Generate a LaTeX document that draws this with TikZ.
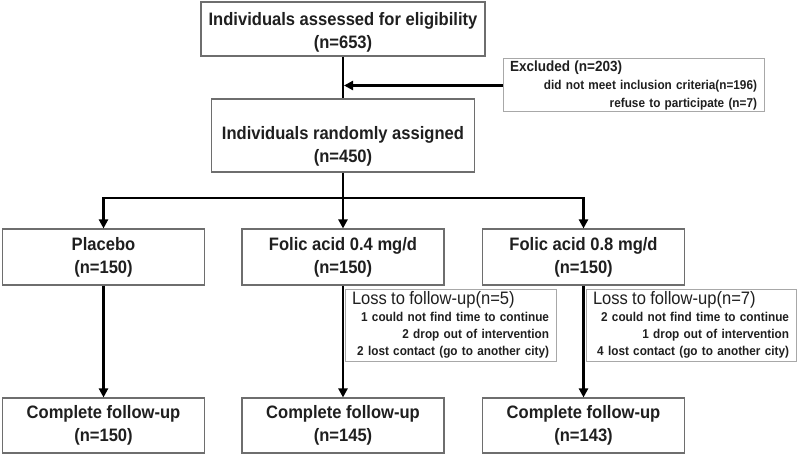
\documentclass[tikz,border=0pt]{standalone}
\usepackage{fontspec}
\setmainfont{Liberation Sans}[FakeStretch=0.92]
\usetikzlibrary{arrows.meta}
\definecolor{boxgray}{HTML}{6E6E6E}
\definecolor{sidegray}{HTML}{A8A8A8}

\begin{document}
\begin{tikzpicture}
[x=1pt, y=-1pt, line width=2.2pt, text=black!88,
main/.style={rectangle, draw=boxgray, line width=1.1pt, align=center, inner sep=0pt, font=\fontsize{18}{23}\selectfont\bfseries},
arm/.style={main, minimum width=202pt, minimum height=56pt},
side/.style={rectangle, draw=sidegray, line width=1pt, inner xsep=7pt, inner ysep=0pt, align=right},
flow/.style={-{Triangle[length=9pt, width=9pt]}}
]

\useasboundingbox (0,0) rectangle (800,457);

\node[main, minimum width=284pt, minimum height=54pt] (assess) at (343,29) {\rule{0pt}{19pt}Individuals assessed for eligibility\\(n=653)};
\node[main, minimum width=263pt, minimum height=73pt] (rand) at (343,135.5) {\rule{0pt}{34pt}Individuals randomly assigned\\(n=450)};

\node[side, text width=247pt, minimum height=53pt, font=\fontsize{12.8}{18}\selectfont\bfseries] (excl) at (633.5,85.5)
  {\makebox[\hsize][l]{\fontsize{14.7}{18}\selectfont Excluded (n=203)}\\did not meet inclusion criteria(n=196)\\refuse to participate (n=7)};

\node[arm] (arm0) at (103.5,257) {Placebo\\(n=150)};
\node[arm] (arm1) at (343,257) {Folic acid 0.4 mg/d\\(n=150)};
\node[arm] (arm2) at (583.5,257) {Folic acid 0.8 mg/d\\(n=150)};

\node[side, text width=197pt, minimum height=72pt, font=\fontsize{12.8}{17}\selectfont\bfseries] (loss1) at (450.5,325)
  {\makebox[\hsize][l]{\fontsize{18}{17}\selectfont\mdseries Loss to follow-up(n=5)}\\1 could not find time to continue\\2 drop out of intervention\\2 lost contact (go to another city)};
\node[side, text width=196pt, minimum height=72pt, font=\fontsize{12.8}{17}\selectfont\bfseries] (loss2) at (691,325)
  {\makebox[\hsize][l]{\fontsize{18}{17}\selectfont\mdseries Loss to follow-up(n=7)}\\2 could not find time to continue\\1 drop out of intervention\\4 lost contact (go to another city)};

\node[arm, minimum height=55pt] (done0) at (103.5,425.5) {Complete follow-up\\(n=150)};
\node[arm, minimum height=55pt] (done1) at (343,425.5) {Complete follow-up\\(n=145)};
\node[arm, minimum height=55pt] (done2) at (583.5,425.5) {Complete follow-up\\(n=143)};

\coordinate (tap) at (assess.south |- excl.west);
\coordinate (split) at (343,198);
\coordinate (b0) at (arm0.north |- split);
\coordinate (b2) at (arm2.north |- split);

\draw (assess) -- (rand);
\draw[flow, shorten >=1pt] (excl) -- (tap);
\draw (rand) -- (split);
\draw[line cap=rect] (b0) -- (b2);
\draw[flow] (b0) -- (arm0);
\draw[flow] (split) -- (arm1);
\draw[flow] (b2) -- (arm2);

\draw[flow] (arm0) -- (done0);
\draw[flow] (arm1) -- (done1);
\draw[flow] (arm2) -- (done2);
\end{tikzpicture}
\end{document}
